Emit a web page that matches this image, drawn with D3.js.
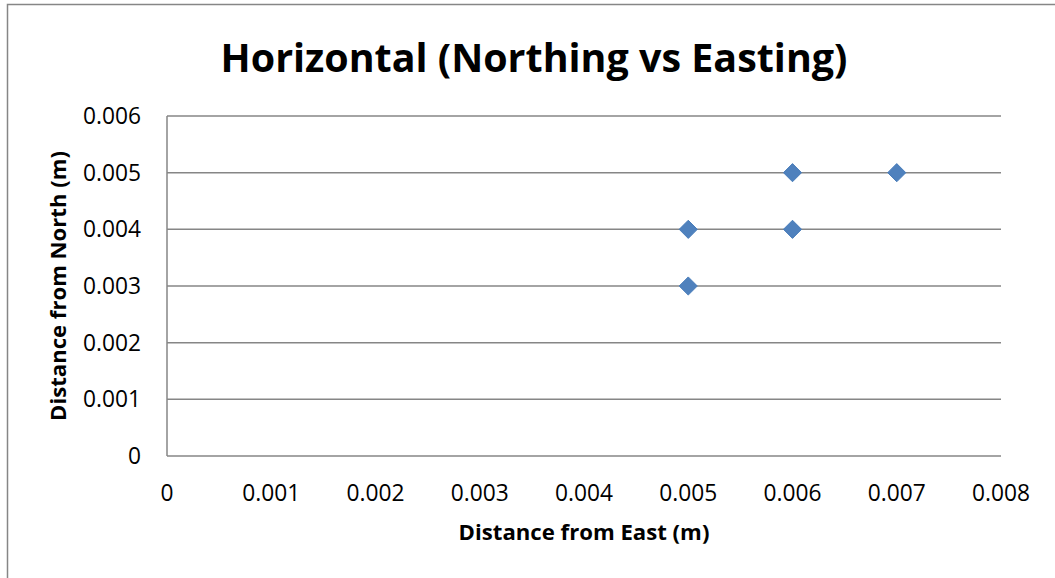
<!DOCTYPE html>
<html>
<head>
<meta charset="utf-8">
<script src="https://cdn.jsdelivr.net/npm/d3@7"></script>
<style>
  body { margin: 0; background: #fff; }
  text { font-family: "Open Sans", "Noto Sans", sans-serif; fill: #000; }
</style>
</head>
<body>
<svg id="chart"></svg>
<script>
const eastings = [0.005, 0.006, 0.007, 0.006, 0.005];
const northings = [0.004, 0.005, 0.005, 0.004, 0.003];
const xTicks = [0, 0.001, 0.002, 0.003, 0.004, 0.005, 0.006, 0.007, 0.008];
const yTicks = [0, 0.001, 0.002, 0.003, 0.004, 0.005, 0.006];

const W = 1055, H = 578;
const plot = { left: 167, top: 116, right: 1001, bottom: 456 };

const svg = d3.select("#chart").attr("width", W).attr("height", H);

// chart frame (runs past the picture on right and bottom)
svg.append("rect")
    .attr("x", 7.5).attr("y", 4.5)
    .attr("width", W + 20).attr("height", H + 20)
    .attr("fill", "#fff").attr("stroke", "#868686").attr("stroke-width", 1.5);

const x = d3.scaleLinear().domain([0, 0.008]).range([plot.left, plot.right]);
const y = d3.scaleLinear().domain([0, 0.006]).range([plot.bottom, plot.top]);

// gridlines
svg.append("g")
    .selectAll("line")
    .data(yTicks)
    .enter().append("line")
    .attr("x1", plot.left).attr("x2", plot.right)
    .attr("y1", d => y(d)).attr("y2", d => y(d))
    .attr("stroke", "#868686").attr("stroke-width", 1.5);

// left axis line
svg.append("line")
    .attr("x1", plot.left).attr("x2", plot.left)
    .attr("y1", plot.top).attr("y2", plot.bottom)
    .attr("stroke", "#868686").attr("stroke-width", 1.5);

const fmt = d => d === 0 ? "0" : d3.format(".3f")(d);

// work out a tick font size so "0.006" is about as wide as in the picture
const probe = svg.append("text").style("font-size", "20px").text("0.006");
const tickSize = 20 * 58 / probe.node().getComputedTextLength();
probe.remove();

// y tick labels
svg.append("g")
    .selectAll("text")
    .data(yTicks)
    .enter().append("text")
    .attr("x", 141).attr("y", d => y(d))
    .attr("dy", "0.35em")
    .attr("text-anchor", "end")
    .style("font-size", tickSize + "px")
    .text(fmt);

// x tick labels
svg.append("g")
    .selectAll("text")
    .data(xTicks)
    .enter().append("text")
    .attr("x", d => x(d)).attr("y", 501)
    .attr("text-anchor", "middle")
    .style("font-size", tickSize + "px")
    .text(fmt);

// points
const diamond = d3.symbol().type(d3.symbolDiamond2).size(210);
svg.append("g")
    .selectAll("path")
    .data(eastings.map((e, i) => ({ e: e, n: northings[i] })))
    .enter().append("path")
    .attr("d", diamond)
    .attr("transform", d => `translate(${x(d.e)},${y(d.n)})`)
    .attr("fill", "#4F81BD")
    .attr("stroke", "#4A7EBB")
    .attr("stroke-width", 1);

// title
const title = svg.append("text")
    .attr("x", 534).attr("y", 72)
    .attr("text-anchor", "middle")
    .style("font-size", "36px").style("font-weight", "bold")
    .text("Horizontal (Northing vs Easting)");
const tw = title.node().getComputedTextLength();
title.style("font-size", (36 * 627 / tw) + "px");

// axis titles
const xt = svg.append("text")
    .attr("x", 584).attr("y", 540)
    .attr("text-anchor", "middle")
    .style("font-size", "18px").style("font-weight", "bold")
    .text("Distance from East (m)");
xt.style("font-size", (18 * 251 / xt.node().getComputedTextLength()) + "px");

const yt = svg.append("text")
    .attr("transform", "translate(66,286) rotate(-90)")
    .attr("text-anchor", "middle")
    .style("font-size", "18px").style("font-weight", "bold")
    .text("Distance from North (m)");
yt.style("font-size", (18 * 270 / yt.node().getComputedTextLength()) + "px");
</script>
</body>
</html>
